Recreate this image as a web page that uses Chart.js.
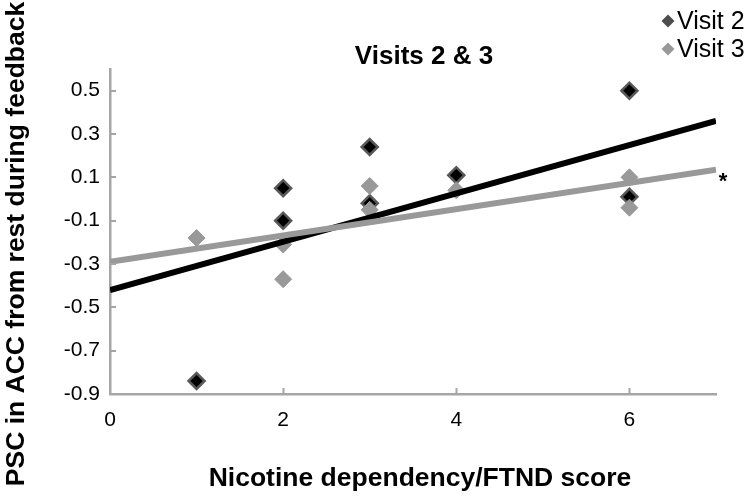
<!DOCTYPE html>
<html><head><meta charset="utf-8">
<script src="https://cdn.jsdelivr.net/npm/chart.js@4.4.1/dist/chart.umd.min.js"></script>
<style>html,body{margin:0;padding:0;background:#fff;overflow:hidden}#wrap{width:752px;height:498px;position:relative}</style>
</head><body><div id="wrap"><canvas id="c" width="752" height="498"></canvas></div>
<script>
// ---- data ----
const visit2X = [1, 2, 2, 3, 3, 4, 6, 6];
const visit2Y = [-0.84, 0.05, -0.10, 0.24, -0.02, 0.11, 0.50, 0.01];
const visit3X = [1, 2, 2, 3, 3, 4, 6, 6];
const visit3Y = [-0.18, -0.21, -0.37, 0.06, -0.05, 0.04, 0.10, -0.04];
const trend2X = [0, 7];
const trend2Y = [-0.42, 0.36];
const trend3X = [0, 7];
const trend3Y = [-0.29, 0.135];
const xTicks = [0, 2, 4, 6];
const xTickLabels = ['0', '2', '4', '6'];
const yTicks = [0.5, 0.3, 0.1, -0.1, -0.3, -0.5, -0.7, -0.9];
const yTickLabels = ['0.5', '0.3', '0.1', '-0.1', '-0.3', '-0.5', '-0.7', '-0.9'];
const seriesNames = ['Visit 2', 'Visit 3'];
const titleText = 'Visits 2 & 3';
const xTitle = 'Nicotine dependency/FTND score';
const yTitle = 'PSC in ACC from rest during feedback';
const sigMark = '*';

const FONT = "'Liberation Sans', Arial, Helvetica, sans-serif";
const AXIS_GRAY = '#a6a6a6';
const DARK = '#000000';
const DARK_EDGE = '#595959';
const LIGHT = '#999999';

const pts = (xs, ys) => xs.map((x, i) => ({x: x, y: ys[i]}));

const decor = {
  id: 'decor',
  afterDraw(chart) {
    const ctx = chart.ctx;
    const xs = chart.scales.x, ys = chart.scales.y;
    const ca = chart.chartArea;
    ctx.save();
    // inward tick marks
    ctx.strokeStyle = AXIS_GRAY;
    ctx.lineWidth = 2;
    ctx.beginPath();
    xTicks.forEach(v => {
      const px = Math.round(xs.getPixelForValue(v)) + 0.5;
      if (v === 0) return;
      ctx.moveTo(px, ca.bottom);
      ctx.lineTo(px, ca.bottom - 6);
    });
    yTicks.forEach(v => {
      const py = Math.round(ys.getPixelForValue(v));
      if (v === -0.9) return;
      ctx.moveTo(ca.left, py);
      ctx.lineTo(ca.left + 6, py);
    });
    ctx.stroke();

    // title
    ctx.fillStyle = '#000';
    ctx.font = "bold 26px " + FONT;
    ctx.textAlign = 'center';
    ctx.textBaseline = 'middle';
    ctx.fillText(titleText, 424, 57);

    // x axis title
    ctx.font = "bold 26.5px " + FONT;
    ctx.fillText(xTitle, 420, 479);

    // y axis title
    ctx.save();
    ctx.translate(17, 244);
    ctx.rotate(-Math.PI / 2);
    ctx.font = "bold 26.5px " + FONT;
    ctx.textAlign = 'center';
    ctx.textBaseline = 'middle';
    ctx.fillText(yTitle, 0, 0);
    ctx.restore();

    // legend
    const legendCols = ['#4d4d4d', LIGHT];
    const rowsY = [21, 49];
    ctx.font = "25px " + FONT;
    ctx.textAlign = 'left';
    ctx.textBaseline = 'middle';
    seriesNames.forEach((name, i) => {
      const cx = 668, cy = rowsY[i], r = 6.5;
      ctx.fillStyle = legendCols[i];
      ctx.beginPath();
      ctx.moveTo(cx - r, cy); ctx.lineTo(cx, cy - r); ctx.lineTo(cx + r, cy); ctx.lineTo(cx, cy + r);
      ctx.closePath(); ctx.fill();
      ctx.fillStyle = '#000';
      ctx.fillText(name, 677, cy + 1);
    });

    // significance mark at the end of the Visit 3 trend line
    ctx.font = "bold 22px " + FONT;
    ctx.fillStyle = '#000';
    ctx.textAlign = 'center';
    ctx.fillText(sigMark, 723, 182);
    ctx.restore();
  }
};

new Chart(document.getElementById('c'), {
  type: 'scatter',
  data: {
    datasets: [
      {label: seriesNames[1] + ' trend', data: pts(trend3X, trend3Y), showLine: true, borderColor: LIGHT, borderWidth: 6, pointRadius: 0, order: 0, borderCapStyle: 'butt'},
      {label: seriesNames[0] + ' trend', data: pts(trend2X, trend2Y), showLine: true, borderColor: DARK, borderWidth: 6, pointRadius: 0, order: 1, borderCapStyle: 'butt'},
      {label: seriesNames[1], data: pts(visit3X, visit3Y), pointStyle: 'rectRot', pointRadius: 8.5, backgroundColor: LIGHT, borderColor: LIGHT, borderWidth: 1, order: 2},
      {label: seriesNames[0], data: pts(visit2X, visit2Y), pointStyle: 'rectRot', pointRadius: 8, backgroundColor: DARK, borderColor: DARK_EDGE, borderWidth: 2.5, order: 3}
    ]
  },
  options: {
    responsive: false,
    animation: false,
    devicePixelRatio: 1,
    layout: {padding: {top: 69, right: 36, left: 0, bottom: 0}},
    plugins: {legend: {display: false}, tooltip: {enabled: false}, title: {display: false}},
    scales: {
      x: {
        type: 'linear', min: 0, max: 7,
        afterBuildTicks: s => { s.ticks = xTicks.map(v => ({value: v})); },
        afterFit: s => { s.height = 104; },
        grid: {display: false, drawTicks: false},
        border: {display: true, color: AXIS_GRAY, width: 2.5},
        ticks: {padding: 14, color: '#000', font: {family: FONT, size: 21},
                callback: (v) => xTickLabels[xTicks.indexOf(v)]}
      },
      y: {
        type: 'linear', min: -0.9, max: 0.6,
        afterBuildTicks: s => { s.ticks = yTicks.map(v => ({value: v})); },
        afterFit: s => { s.width = 110; },
        grid: {display: false, drawTicks: false},
        border: {display: true, color: AXIS_GRAY, width: 2.5},
        ticks: {padding: 10, color: '#000', font: {family: FONT, size: 21},
                callback: (v) => yTickLabels[yTicks.indexOf(v)]}
      }
    }
  },
  plugins: [decor]
});
</script>
</body></html>
